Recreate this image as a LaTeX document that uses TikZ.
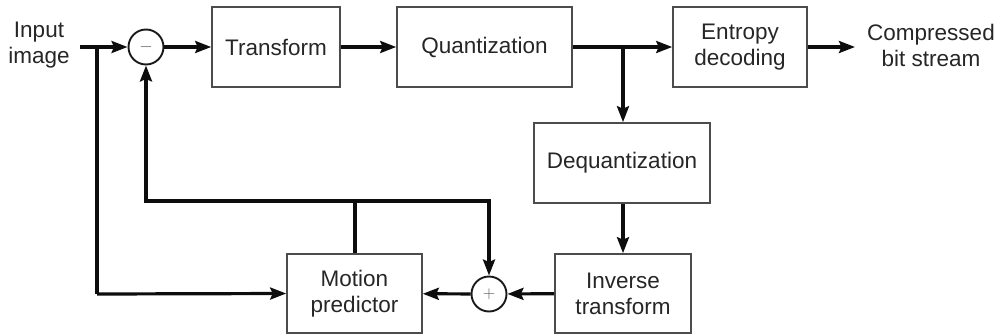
\documentclass[tikz,border=0pt]{standalone}
\usepackage{fontspec}
\setmainfont{Liberation Sans}
\usetikzlibrary{arrows.meta}
\begin{document}
\begin{tikzpicture}[x=1pt,y=-1pt,
  blk/.style={draw=black!70,line width=1.6pt,minimum height=80pt,inner sep=0pt,align=center,font=\fontsize{22.5}{26}\selectfont,text=black!85},
  sumc/.style={draw=black!90,line width=1.9pt,circle,minimum size=35pt,inner sep=0pt,font=\fontsize{16}{16}\selectfont,text=black!65},
  lbl/.style={align=center,font=\fontsize{22.5}{26}\selectfont,text=black!85},
  con/.style={line width=3.2pt,black!95},
  arr/.style={con,-{Stealth[length=16pt,width=12pt,inset=2.5pt]}}]
\useasboundingbox (0,0) rectangle (999,335);
\node[lbl] (in) at (39,45) {Input\\image};
\node[sumc] (sub) at (146,47) {$-$};
\node[blk,minimum width=128pt] (tr) at (276,47) {Transform};
\node[blk,minimum width=175pt] (q) at (484.5,47) {Quantization};
\node[blk,minimum width=134pt] (ent) at (740,47) {Entropy\\decoding};
\node[lbl] (out) at (931,45) {Compressed\\bit stream};
\node[blk,minimum width=176pt] (dq) at (622,163) {Dequantization};
\node[blk,minimum width=136pt,minimum height=79pt] (it) at (623,293.5) {Inverse\\transform};
\node[blk,minimum width=135pt,minimum height=79pt] (mp) at (354.5,293.5) {Motion\\predictor};
\node[sumc] (add) at (489,294) {$+$};
\coordinate (ins) at (80,47);
\coordinate (j1) at (97,47);
\coordinate (j1b) at (97,294);
\coordinate (br) at (623,47);
\coordinate (fbL) at (146,201);
\coordinate (fbM) at (355,201);
\coordinate (fbR) at (489,201);
\draw[arr] (ins) -- (sub);
\draw[con] (j1) -- (j1b);
\draw[arr] (j1b) -- (mp.west);
\draw[arr] (sub) -- (tr);
\draw[arr] (tr) -- (q);
\draw[arr] (q) -- (ent);
\draw[arr] (ent.east) -- (855,47);
\draw[arr] (br) -- (dq.north -| br);
\draw[arr] (dq.south -| it.north) -- (it.north);
\draw[arr] (it) -- (add);
\draw[arr] (add) -- (mp);
\draw[con] (mp.north -| fbM) -- (fbM);
\draw[arr] (fbR) -- (fbL) -- (sub);
\draw[arr] (fbM) -- (fbR) -- (add);
\end{tikzpicture}
\end{document}
